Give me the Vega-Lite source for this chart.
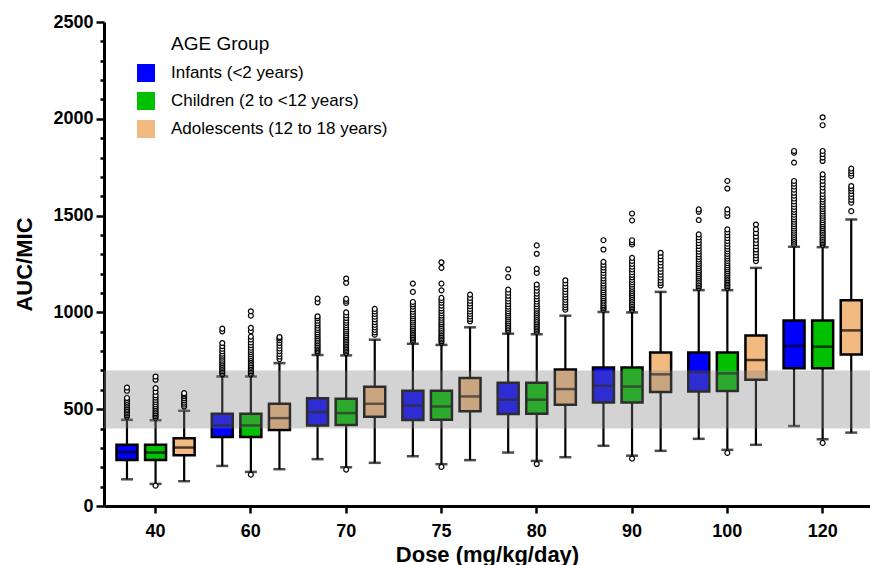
{
  "$schema": "https://vega.github.io/schema/vega-lite/v6.json",
  "autosize": {"type": "none"},
  "padding": {"left": 104, "top": 22, "right": 0, "bottom": 59},
  "width": 766,
  "height": 484,
  "background": "white",
  "config": {
    "view": {"stroke": null},
    "font": "Liberation Sans",
    "axisX": {"domainColor": "black", "domainWidth": 3, "tickColor": "black", "tickWidth": 2.5, "tickSize": 7, "labelFont": "Liberation Sans", "labelFontSize": 18, "labelFontWeight": "bold", "labelColor": "black", "labelPadding": 9, "labelAngle": 0, "titleFont": "Liberation Sans", "titleFontSize": 22, "titleFontWeight": "bold", "titleColor": "black", "titlePadding": 4, "grid": false},
    "axisY": {"domainColor": "black", "domainWidth": 3, "tickColor": "black", "tickWidth": 2.5, "labelFont": "Liberation Sans", "labelFontSize": 18, "labelFontWeight": "bold", "labelColor": "black", "labelPadding": 3, "labelOverlap": false, "labelFlush": false, "titleFont": "Liberation Sans", "titleFontSize": 22, "titleFontWeight": "bold", "titleColor": "black", "titlePadding": 16, "grid": false}
  },
  "datasets": {
    "stats": [
      {"dose":"40","age":"I","lo":138,"q1":238,"med":278,"q3":316,"hi":445},
      {"dose":"40","age":"C","lo":114,"q1":238,"med":276,"q3":316,"hi":443},
      {"dose":"40","age":"A","lo":128,"q1":262,"med":302,"q3":350,"hi":492},
      {"dose":"60","age":"I","lo":207,"q1":357,"med":416,"q3":476,"hi":669},
      {"dose":"60","age":"C","lo":176,"q1":357,"med":416,"q3":476,"hi":669},
      {"dose":"60","age":"A","lo":190,"q1":392,"med":454,"q3":528,"hi":738},
      {"dose":"70","age":"I","lo":242,"q1":416,"med":485,"q3":557,"hi":780},
      {"dose":"70","age":"C","lo":200,"q1":419,"med":480,"q3":554,"hi":778},
      {"dose":"70","age":"A","lo":223,"q1":461,"med":528,"q3":616,"hi":859},
      {"dose":"75","age":"I","lo":257,"q1":444,"med":519,"q3":595,"hi":838},
      {"dose":"75","age":"C","lo":216,"q1":445,"med":514,"q3":595,"hi":832},
      {"dose":"75","age":"A","lo":237,"q1":490,"med":566,"q3":661,"hi":923},
      {"dose":"80","age":"I","lo":276,"q1":475,"med":549,"q3":637,"hi":890},
      {"dose":"80","age":"C","lo":233,"q1":476,"med":549,"q3":637,"hi":887},
      {"dose":"80","age":"A","lo":252,"q1":523,"med":604,"q3":705,"hi":983},
      {"dose":"90","age":"I","lo":311,"q1":535,"med":621,"q3":716,"hi":1002},
      {"dose":"90","age":"C","lo":260,"q1":535,"med":617,"q3":716,"hi":1000},
      {"dose":"90","age":"A","lo":285,"q1":589,"med":680,"q3":793,"hi":1106},
      {"dose":"100","age":"I","lo":347,"q1":592,"med":692,"q3":793,"hi":1115},
      {"dose":"100","age":"C","lo":290,"q1":594,"med":685,"q3":793,"hi":1115},
      {"dose":"100","age":"A","lo":316,"q1":652,"med":754,"q3":881,"hi":1230},
      {"dose":"120","age":"I","lo":413,"q1":711,"med":827,"q3":958,"hi":1339},
      {"dose":"120","age":"C","lo":345,"q1":711,"med":823,"q3":958,"hi":1337},
      {"dose":"120","age":"A","lo":379,"q1":783,"med":907,"q3":1063,"hi":1480}
    ],
    "outliers": [
      {"dose":"40","age":"I","auc":462},{"dose":"40","age":"I","auc":470},{"dose":"40","age":"I","auc":478},{"dose":"40","age":"I","auc":486},{"dose":"40","age":"I","auc":494},{"dose":"40","age":"I","auc":502},{"dose":"40","age":"I","auc":511},{"dose":"40","age":"I","auc":520},{"dose":"40","age":"I","auc":529},{"dose":"40","age":"I","auc":538},{"dose":"40","age":"I","auc":548},{"dose":"40","age":"I","auc":558},{"dose":"40","age":"I","auc":595},{"dose":"40","age":"I","auc":612},
      {"dose":"40","age":"C","auc":456},{"dose":"40","age":"C","auc":464},{"dose":"40","age":"C","auc":472},{"dose":"40","age":"C","auc":480},{"dose":"40","age":"C","auc":489},{"dose":"40","age":"C","auc":498},{"dose":"40","age":"C","auc":507},{"dose":"40","age":"C","auc":516},{"dose":"40","age":"C","auc":526},{"dose":"40","age":"C","auc":537},{"dose":"40","age":"C","auc":548},{"dose":"40","age":"C","auc":560},{"dose":"40","age":"C","auc":572},{"dose":"40","age":"C","auc":590},{"dose":"40","age":"C","auc":609},{"dose":"40","age":"C","auc":652},{"dose":"40","age":"C","auc":669},{"dose":"40","age":"C","auc":105},
      {"dose":"40","age":"A","auc":514},{"dose":"40","age":"A","auc":524},{"dose":"40","age":"A","auc":534},{"dose":"40","age":"A","auc":545},{"dose":"40","age":"A","auc":556},{"dose":"40","age":"A","auc":567},{"dose":"40","age":"A","auc":576},{"dose":"40","age":"A","auc":583},
      {"dose":"60","age":"I","auc":680},{"dose":"60","age":"I","auc":688},{"dose":"60","age":"I","auc":696},{"dose":"60","age":"I","auc":704},{"dose":"60","age":"I","auc":712},{"dose":"60","age":"I","auc":720},{"dose":"60","age":"I","auc":729},{"dose":"60","age":"I","auc":738},{"dose":"60","age":"I","auc":747},{"dose":"60","age":"I","auc":756},{"dose":"60","age":"I","auc":766},{"dose":"60","age":"I","auc":776},{"dose":"60","age":"I","auc":787},{"dose":"60","age":"I","auc":799},{"dose":"60","age":"I","auc":812},{"dose":"60","age":"I","auc":826},{"dose":"60","age":"I","auc":842},{"dose":"60","age":"I","auc":902},{"dose":"60","age":"I","auc":916},
      {"dose":"60","age":"C","auc":680},{"dose":"60","age":"C","auc":688},{"dose":"60","age":"C","auc":696},{"dose":"60","age":"C","auc":704},{"dose":"60","age":"C","auc":712},{"dose":"60","age":"C","auc":720},{"dose":"60","age":"C","auc":728},{"dose":"60","age":"C","auc":737},{"dose":"60","age":"C","auc":746},{"dose":"60","age":"C","auc":755},{"dose":"60","age":"C","auc":764},{"dose":"60","age":"C","auc":774},{"dose":"60","age":"C","auc":784},{"dose":"60","age":"C","auc":795},{"dose":"60","age":"C","auc":806},{"dose":"60","age":"C","auc":818},{"dose":"60","age":"C","auc":831},{"dose":"60","age":"C","auc":845},{"dose":"60","age":"C","auc":860},{"dose":"60","age":"C","auc":875},{"dose":"60","age":"C","auc":902},{"dose":"60","age":"C","auc":920},{"dose":"60","age":"C","auc":983},{"dose":"60","age":"C","auc":1006},{"dose":"60","age":"C","auc":162},
      {"dose":"60","age":"A","auc":759},{"dose":"60","age":"A","auc":772},{"dose":"60","age":"A","auc":786},{"dose":"60","age":"A","auc":800},{"dose":"60","age":"A","auc":814},{"dose":"60","age":"A","auc":828},{"dose":"60","age":"A","auc":842},{"dose":"60","age":"A","auc":856},{"dose":"60","age":"A","auc":866},{"dose":"60","age":"A","auc":873},
      {"dose":"70","age":"I","auc":792},{"dose":"70","age":"I","auc":800},{"dose":"70","age":"I","auc":808},{"dose":"70","age":"I","auc":816},{"dose":"70","age":"I","auc":824},{"dose":"70","age":"I","auc":832},{"dose":"70","age":"I","auc":841},{"dose":"70","age":"I","auc":850},{"dose":"70","age":"I","auc":859},{"dose":"70","age":"I","auc":868},{"dose":"70","age":"I","auc":878},{"dose":"70","age":"I","auc":888},{"dose":"70","age":"I","auc":898},{"dose":"70","age":"I","auc":909},{"dose":"70","age":"I","auc":920},{"dose":"70","age":"I","auc":932},{"dose":"70","age":"I","auc":944},{"dose":"70","age":"I","auc":957},{"dose":"70","age":"I","auc":970},{"dose":"70","age":"I","auc":980},{"dose":"70","age":"I","auc":1052},{"dose":"70","age":"I","auc":1071},
      {"dose":"70","age":"C","auc":790},{"dose":"70","age":"C","auc":798},{"dose":"70","age":"C","auc":806},{"dose":"70","age":"C","auc":814},{"dose":"70","age":"C","auc":822},{"dose":"70","age":"C","auc":830},{"dose":"70","age":"C","auc":838},{"dose":"70","age":"C","auc":846},{"dose":"70","age":"C","auc":855},{"dose":"70","age":"C","auc":864},{"dose":"70","age":"C","auc":873},{"dose":"70","age":"C","auc":882},{"dose":"70","age":"C","auc":892},{"dose":"70","age":"C","auc":902},{"dose":"70","age":"C","auc":912},{"dose":"70","age":"C","auc":923},{"dose":"70","age":"C","auc":934},{"dose":"70","age":"C","auc":946},{"dose":"70","age":"C","auc":958},{"dose":"70","age":"C","auc":971},{"dose":"70","age":"C","auc":985},{"dose":"70","age":"C","auc":1000},{"dose":"70","age":"C","auc":1049},{"dose":"70","age":"C","auc":1060},{"dose":"70","age":"C","auc":1070},{"dose":"70","age":"C","auc":1153},{"dose":"70","age":"C","auc":1175},{"dose":"70","age":"C","auc":188},
      {"dose":"70","age":"A","auc":885},{"dose":"70","age":"A","auc":897},{"dose":"70","age":"A","auc":910},{"dose":"70","age":"A","auc":923},{"dose":"70","age":"A","auc":936},{"dose":"70","age":"A","auc":950},{"dose":"70","age":"A","auc":964},{"dose":"70","age":"A","auc":978},{"dose":"70","age":"A","auc":992},{"dose":"70","age":"A","auc":1005},{"dose":"70","age":"A","auc":1018},
      {"dose":"75","age":"I","auc":850},{"dose":"75","age":"I","auc":858},{"dose":"75","age":"I","auc":866},{"dose":"75","age":"I","auc":874},{"dose":"75","age":"I","auc":882},{"dose":"75","age":"I","auc":891},{"dose":"75","age":"I","auc":900},{"dose":"75","age":"I","auc":909},{"dose":"75","age":"I","auc":918},{"dose":"75","age":"I","auc":928},{"dose":"75","age":"I","auc":938},{"dose":"75","age":"I","auc":948},{"dose":"75","age":"I","auc":958},{"dose":"75","age":"I","auc":969},{"dose":"75","age":"I","auc":980},{"dose":"75","age":"I","auc":991},{"dose":"75","age":"I","auc":1003},{"dose":"75","age":"I","auc":1016},{"dose":"75","age":"I","auc":1030},{"dose":"75","age":"I","auc":1042},{"dose":"75","age":"I","auc":1054},{"dose":"75","age":"I","auc":1106},{"dose":"75","age":"I","auc":1149},
      {"dose":"75","age":"C","auc":844},{"dose":"75","age":"C","auc":852},{"dose":"75","age":"C","auc":860},{"dose":"75","age":"C","auc":868},{"dose":"75","age":"C","auc":876},{"dose":"75","age":"C","auc":884},{"dose":"75","age":"C","auc":893},{"dose":"75","age":"C","auc":902},{"dose":"75","age":"C","auc":911},{"dose":"75","age":"C","auc":920},{"dose":"75","age":"C","auc":930},{"dose":"75","age":"C","auc":940},{"dose":"75","age":"C","auc":950},{"dose":"75","age":"C","auc":961},{"dose":"75","age":"C","auc":972},{"dose":"75","age":"C","auc":984},{"dose":"75","age":"C","auc":996},{"dose":"75","age":"C","auc":1008},{"dose":"75","age":"C","auc":1021},{"dose":"75","age":"C","auc":1035},{"dose":"75","age":"C","auc":1050},{"dose":"75","age":"C","auc":1063},{"dose":"75","age":"C","auc":1075},{"dose":"75","age":"C","auc":1114},{"dose":"75","age":"C","auc":1149},{"dose":"75","age":"C","auc":1230},{"dose":"75","age":"C","auc":1259},{"dose":"75","age":"C","auc":202},
      {"dose":"75","age":"A","auc":954},{"dose":"75","age":"A","auc":966},{"dose":"75","age":"A","auc":979},{"dose":"75","age":"A","auc":992},{"dose":"75","age":"A","auc":1005},{"dose":"75","age":"A","auc":1018},{"dose":"75","age":"A","auc":1032},{"dose":"75","age":"A","auc":1046},{"dose":"75","age":"A","auc":1060},{"dose":"75","age":"A","auc":1075},{"dose":"75","age":"A","auc":1092},
      {"dose":"80","age":"I","auc":902},{"dose":"80","age":"I","auc":910},{"dose":"80","age":"I","auc":918},{"dose":"80","age":"I","auc":927},{"dose":"80","age":"I","auc":936},{"dose":"80","age":"I","auc":945},{"dose":"80","age":"I","auc":954},{"dose":"80","age":"I","auc":964},{"dose":"80","age":"I","auc":974},{"dose":"80","age":"I","auc":984},{"dose":"80","age":"I","auc":995},{"dose":"80","age":"I","auc":1006},{"dose":"80","age":"I","auc":1018},{"dose":"80","age":"I","auc":1030},{"dose":"80","age":"I","auc":1043},{"dose":"80","age":"I","auc":1057},{"dose":"80","age":"I","auc":1071},{"dose":"80","age":"I","auc":1086},{"dose":"80","age":"I","auc":1102},{"dose":"80","age":"I","auc":1118},{"dose":"80","age":"I","auc":1182},{"dose":"80","age":"I","auc":1222},
      {"dose":"80","age":"C","auc":899},{"dose":"80","age":"C","auc":907},{"dose":"80","age":"C","auc":915},{"dose":"80","age":"C","auc":923},{"dose":"80","age":"C","auc":931},{"dose":"80","age":"C","auc":940},{"dose":"80","age":"C","auc":949},{"dose":"80","age":"C","auc":958},{"dose":"80","age":"C","auc":967},{"dose":"80","age":"C","auc":977},{"dose":"80","age":"C","auc":987},{"dose":"80","age":"C","auc":997},{"dose":"80","age":"C","auc":1008},{"dose":"80","age":"C","auc":1019},{"dose":"80","age":"C","auc":1031},{"dose":"80","age":"C","auc":1043},{"dose":"80","age":"C","auc":1056},{"dose":"80","age":"C","auc":1069},{"dose":"80","age":"C","auc":1083},{"dose":"80","age":"C","auc":1097},{"dose":"80","age":"C","auc":1112},{"dose":"80","age":"C","auc":1128},{"dose":"80","age":"C","auc":1144},{"dose":"80","age":"C","auc":1204},{"dose":"80","age":"C","auc":1225},{"dose":"80","age":"C","auc":1303},{"dose":"80","age":"C","auc":1346},{"dose":"80","age":"C","auc":217},
      {"dose":"80","age":"A","auc":1014},{"dose":"80","age":"A","auc":1026},{"dose":"80","age":"A","auc":1039},{"dose":"80","age":"A","auc":1052},{"dose":"80","age":"A","auc":1065},{"dose":"80","age":"A","auc":1078},{"dose":"80","age":"A","auc":1092},{"dose":"80","age":"A","auc":1106},{"dose":"80","age":"A","auc":1120},{"dose":"80","age":"A","auc":1134},{"dose":"80","age":"A","auc":1150},{"dose":"80","age":"A","auc":1166},
      {"dose":"90","age":"I","auc":1014},{"dose":"90","age":"I","auc":1022},{"dose":"90","age":"I","auc":1030},{"dose":"90","age":"I","auc":1038},{"dose":"90","age":"I","auc":1047},{"dose":"90","age":"I","auc":1056},{"dose":"90","age":"I","auc":1065},{"dose":"90","age":"I","auc":1074},{"dose":"90","age":"I","auc":1084},{"dose":"90","age":"I","auc":1094},{"dose":"90","age":"I","auc":1104},{"dose":"90","age":"I","auc":1115},{"dose":"90","age":"I","auc":1126},{"dose":"90","age":"I","auc":1138},{"dose":"90","age":"I","auc":1150},{"dose":"90","age":"I","auc":1163},{"dose":"90","age":"I","auc":1176},{"dose":"90","age":"I","auc":1190},{"dose":"90","age":"I","auc":1204},{"dose":"90","age":"I","auc":1218},{"dose":"90","age":"I","auc":1232},{"dose":"90","age":"I","auc":1246},{"dose":"90","age":"I","auc":1261},{"dose":"90","age":"I","auc":1325},{"dose":"90","age":"I","auc":1373},
      {"dose":"90","age":"C","auc":1012},{"dose":"90","age":"C","auc":1020},{"dose":"90","age":"C","auc":1028},{"dose":"90","age":"C","auc":1036},{"dose":"90","age":"C","auc":1044},{"dose":"90","age":"C","auc":1053},{"dose":"90","age":"C","auc":1062},{"dose":"90","age":"C","auc":1071},{"dose":"90","age":"C","auc":1080},{"dose":"90","age":"C","auc":1090},{"dose":"90","age":"C","auc":1100},{"dose":"90","age":"C","auc":1110},{"dose":"90","age":"C","auc":1121},{"dose":"90","age":"C","auc":1132},{"dose":"90","age":"C","auc":1144},{"dose":"90","age":"C","auc":1156},{"dose":"90","age":"C","auc":1168},{"dose":"90","age":"C","auc":1181},{"dose":"90","age":"C","auc":1194},{"dose":"90","age":"C","auc":1208},{"dose":"90","age":"C","auc":1222},{"dose":"90","age":"C","auc":1236},{"dose":"90","age":"C","auc":1251},{"dose":"90","age":"C","auc":1266},{"dose":"90","age":"C","auc":1282},{"dose":"90","age":"C","auc":1351},{"dose":"90","age":"C","auc":1362},{"dose":"90","age":"C","auc":1373},{"dose":"90","age":"C","auc":1475},{"dose":"90","age":"C","auc":1511},{"dose":"90","age":"C","auc":245},
      {"dose":"90","age":"A","auc":1139},{"dose":"90","age":"A","auc":1152},{"dose":"90","age":"A","auc":1165},{"dose":"90","age":"A","auc":1180},{"dose":"90","age":"A","auc":1195},{"dose":"90","age":"A","auc":1210},{"dose":"90","age":"A","auc":1226},{"dose":"90","age":"A","auc":1242},{"dose":"90","age":"A","auc":1258},{"dose":"90","age":"A","auc":1274},{"dose":"90","age":"A","auc":1291},{"dose":"90","age":"A","auc":1308},
      {"dose":"100","age":"I","auc":1127},{"dose":"100","age":"I","auc":1135},{"dose":"100","age":"I","auc":1143},{"dose":"100","age":"I","auc":1151},{"dose":"100","age":"I","auc":1160},{"dose":"100","age":"I","auc":1169},{"dose":"100","age":"I","auc":1178},{"dose":"100","age":"I","auc":1187},{"dose":"100","age":"I","auc":1197},{"dose":"100","age":"I","auc":1207},{"dose":"100","age":"I","auc":1217},{"dose":"100","age":"I","auc":1228},{"dose":"100","age":"I","auc":1239},{"dose":"100","age":"I","auc":1250},{"dose":"100","age":"I","auc":1262},{"dose":"100","age":"I","auc":1274},{"dose":"100","age":"I","auc":1287},{"dose":"100","age":"I","auc":1300},{"dose":"100","age":"I","auc":1314},{"dose":"100","age":"I","auc":1328},{"dose":"100","age":"I","auc":1343},{"dose":"100","age":"I","auc":1358},{"dose":"100","age":"I","auc":1373},{"dose":"100","age":"I","auc":1388},{"dose":"100","age":"I","auc":1403},{"dose":"100","age":"I","auc":1477},{"dose":"100","age":"I","auc":1520},{"dose":"100","age":"I","auc":1532},
      {"dose":"100","age":"C","auc":1127},{"dose":"100","age":"C","auc":1135},{"dose":"100","age":"C","auc":1143},{"dose":"100","age":"C","auc":1151},{"dose":"100","age":"C","auc":1159},{"dose":"100","age":"C","auc":1167},{"dose":"100","age":"C","auc":1176},{"dose":"100","age":"C","auc":1185},{"dose":"100","age":"C","auc":1194},{"dose":"100","age":"C","auc":1203},{"dose":"100","age":"C","auc":1213},{"dose":"100","age":"C","auc":1223},{"dose":"100","age":"C","auc":1233},{"dose":"100","age":"C","auc":1244},{"dose":"100","age":"C","auc":1255},{"dose":"100","age":"C","auc":1266},{"dose":"100","age":"C","auc":1278},{"dose":"100","age":"C","auc":1290},{"dose":"100","age":"C","auc":1302},{"dose":"100","age":"C","auc":1315},{"dose":"100","age":"C","auc":1328},{"dose":"100","age":"C","auc":1341},{"dose":"100","age":"C","auc":1355},{"dose":"100","age":"C","auc":1369},{"dose":"100","age":"C","auc":1384},{"dose":"100","age":"C","auc":1399},{"dose":"100","age":"C","auc":1414},{"dose":"100","age":"C","auc":1429},{"dose":"100","age":"C","auc":1498},{"dose":"100","age":"C","auc":1515},{"dose":"100","age":"C","auc":1532},{"dose":"100","age":"C","auc":1640},{"dose":"100","age":"C","auc":1679},{"dose":"100","age":"C","auc":274},
      {"dose":"100","age":"A","auc":1265},{"dose":"100","age":"A","auc":1280},{"dose":"100","age":"A","auc":1295},{"dose":"100","age":"A","auc":1310},{"dose":"100","age":"A","auc":1325},{"dose":"100","age":"A","auc":1342},{"dose":"100","age":"A","auc":1358},{"dose":"100","age":"A","auc":1375},{"dose":"100","age":"A","auc":1392},{"dose":"100","age":"A","auc":1410},{"dose":"100","age":"A","auc":1430},{"dose":"100","age":"A","auc":1454},
      {"dose":"120","age":"I","auc":1351},{"dose":"120","age":"I","auc":1360},{"dose":"120","age":"I","auc":1370},{"dose":"120","age":"I","auc":1380},{"dose":"120","age":"I","auc":1390},{"dose":"120","age":"I","auc":1400},{"dose":"120","age":"I","auc":1411},{"dose":"120","age":"I","auc":1422},{"dose":"120","age":"I","auc":1433},{"dose":"120","age":"I","auc":1444},{"dose":"120","age":"I","auc":1456},{"dose":"120","age":"I","auc":1468},{"dose":"120","age":"I","auc":1480},{"dose":"120","age":"I","auc":1492},{"dose":"120","age":"I","auc":1505},{"dose":"120","age":"I","auc":1518},{"dose":"120","age":"I","auc":1531},{"dose":"120","age":"I","auc":1545},{"dose":"120","age":"I","auc":1559},{"dose":"120","age":"I","auc":1573},{"dose":"120","age":"I","auc":1588},{"dose":"120","age":"I","auc":1603},{"dose":"120","age":"I","auc":1618},{"dose":"120","age":"I","auc":1634},{"dose":"120","age":"I","auc":1650},{"dose":"120","age":"I","auc":1665},{"dose":"120","age":"I","auc":1679},{"dose":"120","age":"I","auc":1774},{"dose":"120","age":"I","auc":1825},{"dose":"120","age":"I","auc":1834},
      {"dose":"120","age":"C","auc":1349},{"dose":"120","age":"C","auc":1357},{"dose":"120","age":"C","auc":1365},{"dose":"120","age":"C","auc":1373},{"dose":"120","age":"C","auc":1381},{"dose":"120","age":"C","auc":1390},{"dose":"120","age":"C","auc":1399},{"dose":"120","age":"C","auc":1408},{"dose":"120","age":"C","auc":1417},{"dose":"120","age":"C","auc":1426},{"dose":"120","age":"C","auc":1436},{"dose":"120","age":"C","auc":1446},{"dose":"120","age":"C","auc":1456},{"dose":"120","age":"C","auc":1466},{"dose":"120","age":"C","auc":1477},{"dose":"120","age":"C","auc":1488},{"dose":"120","age":"C","auc":1499},{"dose":"120","age":"C","auc":1510},{"dose":"120","age":"C","auc":1522},{"dose":"120","age":"C","auc":1534},{"dose":"120","age":"C","auc":1546},{"dose":"120","age":"C","auc":1558},{"dose":"120","age":"C","auc":1571},{"dose":"120","age":"C","auc":1584},{"dose":"120","age":"C","auc":1597},{"dose":"120","age":"C","auc":1612},{"dose":"120","age":"C","auc":1628},{"dose":"120","age":"C","auc":1646},{"dose":"120","age":"C","auc":1662},{"dose":"120","age":"C","auc":1680},{"dose":"120","age":"C","auc":1697},{"dose":"120","age":"C","auc":1713},{"dose":"120","age":"C","auc":1782},{"dose":"120","age":"C","auc":1800},{"dose":"120","age":"C","auc":1818},{"dose":"120","age":"C","auc":1834},{"dose":"120","age":"C","auc":1967},{"dose":"120","age":"C","auc":2008},{"dose":"120","age":"C","auc":326},
      {"dose":"120","age":"A","auc":1523},{"dose":"120","age":"A","auc":1567},{"dose":"120","age":"A","auc":1582},{"dose":"120","age":"A","auc":1597},{"dose":"120","age":"A","auc":1612},{"dose":"120","age":"A","auc":1627},{"dose":"120","age":"A","auc":1640},{"dose":"120","age":"A","auc":1653},{"dose":"120","age":"A","auc":1705},{"dose":"120","age":"A","auc":1718},{"dose":"120","age":"A","auc":1730},{"dose":"120","age":"A","auc":1743}
    ],
    "band": [{"lo": 400, "hi": 700}]
  },
  "layer": [
    {
      "data": {"name": "stats"},
      "mark": {"type": "rule", "color": "black", "strokeWidth": 2.2},
      "encoding": {
        "x": {"field": "dose", "type": "ordinal", "sort": ["40","60","70","75","80","90","100","120"], "scale": {"paddingInner": 0.1, "paddingOuter": 0.069, "align": 0.66}, "title": "Dose (mg/kg/day)"},
        "xOffset": {"field": "age", "type": "nominal", "sort": ["I","C","A"], "scale": {"domain": ["I","C","A"]}},
        "y": {"field": "lo", "type": "quantitative", "scale": {"domain": [0, 2500], "nice": false}, "title": "AUC/MIC",
          "axis": {"values": [0,100,200,300,400,500,600,700,800,900,1000,1100,1200,1300,1400,1500,1600,1700,1800,1900,2000,2100,2200,2300,2400,2500], "format": "d", "labelOverlap": false, "labelFlush": false, "labelExpr": "datum.value % 500 === 0 ? datum.label : ''", "tickSize": {"condition": {"test": "datum.value % 500 === 0", "value": 8}, "value": 4}}},
        "y2": {"field": "hi"}
      }
    },
    {
      "data": {"name": "stats"},
      "mark": {"type": "tick", "color": "black", "thickness": 2.5, "size": 12},
      "encoding": {
        "x": {"field": "dose", "type": "ordinal", "sort": ["40","60","70","75","80","90","100","120"], "scale": {"paddingInner": 0.1, "paddingOuter": 0.069, "align": 0.66}, "title": "Dose (mg/kg/day)"},
        "xOffset": {"field": "age", "type": "nominal", "sort": ["I","C","A"], "scale": {"domain": ["I","C","A"]}},
        "y": {"field": "lo", "type": "quantitative", "scale": {"domain": [0, 2500], "nice": false}, "title": "AUC/MIC",
          "axis": {"values": [0,100,200,300,400,500,600,700,800,900,1000,1100,1200,1300,1400,1500,1600,1700,1800,1900,2000,2100,2200,2300,2400,2500], "format": "d", "labelOverlap": false, "labelFlush": false, "labelExpr": "datum.value % 500 === 0 ? datum.label : ''", "tickSize": {"condition": {"test": "datum.value % 500 === 0", "value": 8}, "value": 4}}}
      }
    },
    {
      "data": {"name": "stats"},
      "mark": {"type": "tick", "color": "black", "thickness": 2.5, "size": 12},
      "encoding": {
        "x": {"field": "dose", "type": "ordinal", "sort": ["40","60","70","75","80","90","100","120"], "scale": {"paddingInner": 0.1, "paddingOuter": 0.069, "align": 0.66}, "title": "Dose (mg/kg/day)"},
        "xOffset": {"field": "age", "type": "nominal", "sort": ["I","C","A"], "scale": {"domain": ["I","C","A"]}},
        "y": {"field": "hi", "type": "quantitative", "scale": {"domain": [0, 2500], "nice": false}, "title": "AUC/MIC",
          "axis": {"values": [0,100,200,300,400,500,600,700,800,900,1000,1100,1200,1300,1400,1500,1600,1700,1800,1900,2000,2100,2200,2300,2400,2500], "format": "d", "labelOverlap": false, "labelFlush": false, "labelExpr": "datum.value % 500 === 0 ? datum.label : ''", "tickSize": {"condition": {"test": "datum.value % 500 === 0", "value": 8}, "value": 4}}}
      }
    },
    {
      "data": {"name": "stats"},
      "mark": {"type": "bar", "stroke": "black", "strokeWidth": 2.5, "size": 21, "opacity": 1},
      "encoding": {
        "x": {"field": "dose", "type": "ordinal", "sort": ["40","60","70","75","80","90","100","120"], "scale": {"paddingInner": 0.1, "paddingOuter": 0.069, "align": 0.66}, "title": "Dose (mg/kg/day)"},
        "xOffset": {"field": "age", "type": "nominal", "sort": ["I","C","A"], "scale": {"domain": ["I","C","A"]}},
        "y": {"field": "q1", "type": "quantitative", "scale": {"domain": [0, 2500], "nice": false}, "title": "AUC/MIC",
          "axis": {"values": [0,100,200,300,400,500,600,700,800,900,1000,1100,1200,1300,1400,1500,1600,1700,1800,1900,2000,2100,2200,2300,2400,2500], "format": "d", "labelOverlap": false, "labelFlush": false, "labelExpr": "datum.value % 500 === 0 ? datum.label : ''", "tickSize": {"condition": {"test": "datum.value % 500 === 0", "value": 8}, "value": 4}}},
        "y2": {"field": "q3"},
        "color": {"field": "age", "type": "nominal", "scale": {"domain": ["I","C","A"], "range": ["#0000FF", "#00C000", "#F2BA80"]},
          "legend": {"orient": "none", "legendX": 67, "legendY": 13, "title": "AGE Group", "titleFont": "Liberation Sans", "titleFontSize": 19, "titleFontWeight": "normal", "titleColor": "black", "titlePadding": 10, "labelFont": "Liberation Sans", "labelFontSize": 17, "labelColor": "black", "labelOffset": 16, "labelLimit": 400, "symbolType": "square", "symbolSize": 324, "symbolOffset": -34, "symbolStrokeWidth": 0, "symbolOpacity": 1, "rowPadding": 10, "padding": 0,
            "labelExpr": "datum.label == 'I' ? 'Infants (<2 years)' : datum.label == 'C' ? 'Children (2 to <12 years)' : 'Adolescents (12 to 18 years)'"}}
      }
    },
    {
      "data": {"name": "stats"},
      "mark": {"type": "tick", "color": "black", "thickness": 2.5, "size": 21},
      "encoding": {
        "x": {"field": "dose", "type": "ordinal", "sort": ["40","60","70","75","80","90","100","120"], "scale": {"paddingInner": 0.1, "paddingOuter": 0.069, "align": 0.66}, "title": "Dose (mg/kg/day)"},
        "xOffset": {"field": "age", "type": "nominal", "sort": ["I","C","A"], "scale": {"domain": ["I","C","A"]}},
        "y": {"field": "med", "type": "quantitative", "scale": {"domain": [0, 2500], "nice": false}, "title": "AUC/MIC",
          "axis": {"values": [0,100,200,300,400,500,600,700,800,900,1000,1100,1200,1300,1400,1500,1600,1700,1800,1900,2000,2100,2200,2300,2400,2500], "format": "d", "labelOverlap": false, "labelFlush": false, "labelExpr": "datum.value % 500 === 0 ? datum.label : ''", "tickSize": {"condition": {"test": "datum.value % 500 === 0", "value": 8}, "value": 4}}}
      }
    },
    {
      "data": {"name": "band"},
      "mark": {"type": "rect", "color": "#808080", "opacity": 0.35},
      "encoding": {
        "y": {"field": "lo", "type": "quantitative", "scale": {"domain": [0, 2500], "nice": false}, "title": "AUC/MIC",
          "axis": {"values": [0,100,200,300,400,500,600,700,800,900,1000,1100,1200,1300,1400,1500,1600,1700,1800,1900,2000,2100,2200,2300,2400,2500], "format": "d", "labelOverlap": false, "labelFlush": false, "labelExpr": "datum.value % 500 === 0 ? datum.label : ''", "tickSize": {"condition": {"test": "datum.value % 500 === 0", "value": 8}, "value": 4}}},
        "y2": {"field": "hi"}
      }
    },
    {
      "data": {"name": "outliers"},
      "mark": {"type": "point", "shape": "circle", "filled": true, "fill": "white", "stroke": "black", "strokeWidth": 1.2, "size": 24, "opacity": 1},
      "encoding": {
        "x": {"field": "dose", "type": "ordinal", "sort": ["40","60","70","75","80","90","100","120"], "scale": {"paddingInner": 0.1, "paddingOuter": 0.069, "align": 0.66}, "title": "Dose (mg/kg/day)"},
        "xOffset": {"field": "age", "type": "nominal", "sort": ["I","C","A"], "scale": {"domain": ["I","C","A"]}},
        "y": {"field": "auc", "type": "quantitative", "scale": {"domain": [0, 2500], "nice": false}, "title": "AUC/MIC",
          "axis": {"values": [0,100,200,300,400,500,600,700,800,900,1000,1100,1200,1300,1400,1500,1600,1700,1800,1900,2000,2100,2200,2300,2400,2500], "format": "d", "labelOverlap": false, "labelFlush": false, "labelExpr": "datum.value % 500 === 0 ? datum.label : ''", "tickSize": {"condition": {"test": "datum.value % 500 === 0", "value": 8}, "value": 4}}}
      }
    }
  ]
}
